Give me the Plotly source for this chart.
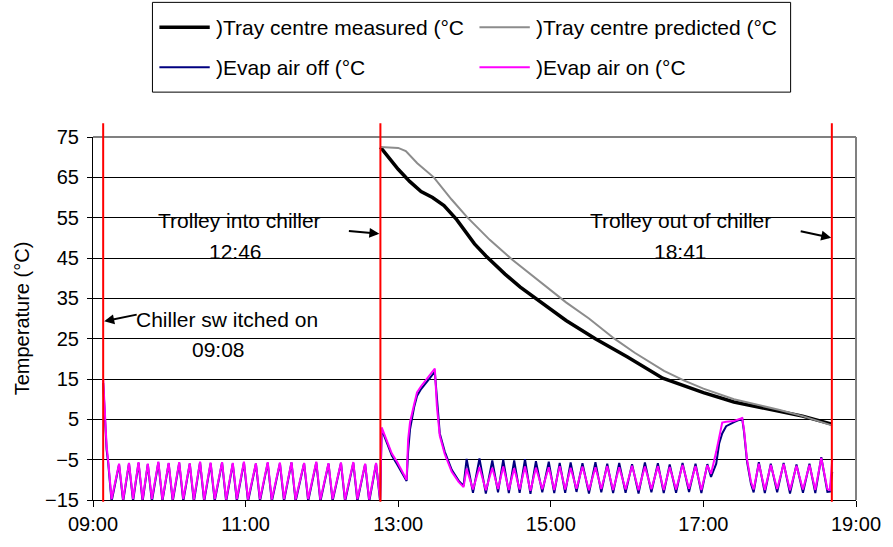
import plotly.graph_objects as go

# ---------------- data (time = minutes after 09:00) ----------------
tray_time = [226, 231, 240, 249, 258, 267, 276, 286, 300, 309, 324, 336, 348, 360, 372, 395,
             420, 448, 465, 480, 504, 525, 540, 558, 581]
tray_measured = [72.5, 70.5, 67, 64, 61.5, 60, 58, 54.5, 48.5, 45.5, 41, 37.8, 35, 32.2, 29.5, 25,
                 20.5, 15.2, 13.2, 11.6, 9.3, 8, 7, 5.8, 3.8]

pred_time = [226, 240, 246, 255, 268, 282, 294, 312, 330, 348, 372, 390, 410, 426,
             449, 465, 480, 504, 525, 540, 558, 581]
tray_predicted = [72.5, 72.3, 71.5, 68.5, 65, 59.5, 55.2, 49.5, 44.5, 40, 34, 30, 25, 21.5,
                  17, 14.6, 12.6, 10, 8.5, 7.3, 5.8, 3.5]

evap_time = [
    8.0, 9.5, 10.7, 12.0, 14.6,
    20.5, 23.7, 28.3, 31.5, 35.8, 39.0, 43.1, 46.3, 51.4, 54.6, 59.5, 62.7, 67.8, 71.0,
    76.1, 79.3, 84.2, 87.4, 92.5, 95.7, 101.5, 104.7, 109.9, 113.1, 118.7, 121.9,
    128.1, 131.3, 137.4, 140.6, 147.0, 150.2, 156.1, 159.3, 166.0, 169.2, 175.6, 178.8,
    185.2, 188.4, 195.0, 198.2, 204.7, 207.9, 214.0, 217.2, 222.6, 225.8,
    227.0, 231.4, 235.0, 239.2, 245.4, 246.6, 247.8, 249.3, 252.5, 254.8, 258.0, 261.0,
    264.9, 268.8, 270.4, 272.7, 276.6, 282.1, 287.5, 291.4,
    293.8, 298.8, 303.9, 308.9, 314.0, 318.5, 322.6, 327.0, 331.2, 335.5, 339.7, 344.0,
    348.3, 353.3, 358.4, 362.7, 367.0, 371.3, 375.6, 380.2, 384.9, 390.0, 395.1, 399.7,
    404.4, 409.0, 413.8, 418.8, 423.9, 429.0, 434.0, 439.1, 444.2, 448.8, 453.5, 458.5,
    463.6, 468.7, 473.8, 478.4, 483.1,
    486.0, 490.1, 492.4, 494.8, 497.9, 504.1, 510.5, 511.9, 514.3, 517.4, 519.5,
    523.6, 528.3, 533.0, 538.0, 543.1, 548.1, 553.2, 558.3, 563.4, 568.0, 572.7, 577.5,
    579.5, 581.3]

evap_off = [
    14, 5, -2.5, -6, -15.4,
    -6.2, -15.4, -5.9, -15.3, -5.8, -15.4, -6.1, -15.4, -5.7, -15.3, -5.9, -15.4, -5.8, -15.3,
    -6.0, -15.5, -5.6, -15.4, -5.9, -15.3, -5.7, -15.4, -6.0, -15.3, -5.7, -15.4,
    -6.0, -15.3, -5.8, -15.4, -5.9, -15.3, -5.7, -15.4, -5.9, -15.3, -5.7, -15.4,
    -6.0, -15.3, -5.8, -15.4, -5.8, -15.3, -6.1, -15.4, -6.0, -15.4,
    2.5, -1.2, -4.0, -6.2, -9.8, -10.3, -3.0, 2.5, 8.0, 10.8, 12.5, 13.8,
    15.2, 16.8, 9.5, 1.5, -3.0, -7.5, -10.2, -11.5,
    -4.8, -13.2, -4.7, -13.4, -5.2, -13.1, -5.0, -13.3, -5.2, -13.2, -4.9, -13.5,
    -5.4, -13.1, -5.5, -13.3, -5.8, -13.2, -5.7, -13.0, -5.9, -13.4, -5.6, -13.1,
    -6.0, -13.3, -5.8, -13.2, -6.1, -13.4, -5.7, -13.1, -5.9, -13.3, -6.2, -13.2,
    -5.8, -13.0, -6.0, -13.3, -6.1,
    -9.3, -6.0, -1.0, 1.5, 3.3, 4.3, 5.2, 2.0, -5.5, -11.0, -13.1,
    -5.6, -13.3, -6.0, -13.1, -5.8, -13.4, -6.2, -13.2, -6.0, -13.3, -4.4, -13.0,
    -12.9, -8.0]

evap_on = [
    15, 6, -1.6, -5.5, -14.8,
    -6.0, -14.9, -5.8, -14.8, -5.6, -14.9, -6.0, -14.8, -5.5, -14.9, -5.8, -14.9, -5.6, -14.8,
    -5.9, -14.9, -5.5, -14.9, -5.7, -14.8, -5.6, -14.9, -5.8, -14.8, -5.5, -14.9,
    -5.9, -14.8, -5.6, -14.9, -5.7, -14.8, -5.6, -14.9, -5.8, -14.8, -5.5, -14.9,
    -5.9, -14.8, -5.7, -14.9, -5.6, -14.8, -6.0, -14.9, -5.8, -14.9,
    3.0, -0.7, -3.5, -5.6, -9.3, -10.0, 0.0, 4.3, 8.7, 11.7, 13.2, 14.4,
    15.8, 17.6, 8.3, 0.9, -3.6, -8.0, -10.5, -11.8,
    -7.2, -12.4, -6.8, -12.6, -7.0, -12.3, -6.7, -12.5, -7.1, -12.4, -6.7, -12.7,
    -7.0, -12.3, -6.9, -12.5, -6.6, -12.4, -7.0, -12.2, -6.7, -12.6, -6.9, -12.3,
    -6.6, -12.5, -6.9, -12.4, -6.5, -12.6, -6.7, -12.3, -6.6, -12.5, -6.8, -12.4,
    -6.3, -12.2, -6.6, -12.5, -6.4,
    -8.5, -3.0, 0.5, 4.2, 4.4, 4.6, 5.3, 2.5, -4.9, -10.5, -12.4,
    -6.0, -12.5, -6.3, -12.3, -6.1, -12.6, -6.5, -12.4, -6.3, -12.5, -4.6, -12.3,
    -12.5, -5.0]

series_names = [")Tray centre measured (°C", ")Tray centre predicted (°C",
                ")Evap air off (°C", ")Evap air on (°C"]
series_colors = ["black", "#8c8c8c", "#000080", "#ff00ff"]
series_widths = [3.5, 2, 2, 2]

event_time = [8, 226, 581]          # 09:08, 12:46, 18:41
tick_hours = [9, 11, 13, 15, 17, 19]
tick_labels = ["09:00", "11:00", "13:00", "15:00", "17:00", "19:00"]
y_ticks = [-15, -5, 5, 15, 25, 35, 45, 55, 65, 75]


def to_hours(mins):
    return [9 + m / 60.0 for m in mins]


FONT = "Liberation Sans, Arial, sans-serif"

xs = [to_hours(tray_time), to_hours(pred_time), to_hours(evap_time), to_hours(evap_time)]
ys = [tray_measured, tray_predicted, evap_off, evap_on]

fig = go.Figure()
for x, y, n, c, w in zip(xs, ys, series_names, series_colors, series_widths):
    fig.add_trace(go.Scatter(x=x, y=y, mode="lines", name=n, showlegend=False,
                             line=dict(color=c, width=w)))

# plot-area frame (top and right) in grey
shapes = [
    dict(type="line", xref="paper", yref="paper", x0=0, x1=1, y0=1, y1=1,
         line=dict(color="#808080", width=2), layer="above"),
    dict(type="line", xref="paper", yref="paper", x0=1, x1=1, y0=0, y1=1,
         line=dict(color="#808080", width=2), layer="above"),
]
# event markers
for t in to_hours(event_time):
    shapes.append(dict(type="line", xref="x", yref="paper", x0=t, x1=t, y0=-0.005, y1=1.038,
                       line=dict(color="#ff0000", width=2), layer="above"))

# legend box (drawn in paper coordinates above the plot)
shapes.append(dict(type="rect", xref="paper", yref="paper", x0=0.0779, x1=0.9143,
                   y0=1.1236, y1=1.3709, line=dict(color="black", width=1),
                   fillcolor="white", layer="above"))
leg_x = [0.0870, 0.5065, 0.0870, 0.5065]
leg_y = [1.3022, 1.3022, 1.1923, 1.1923]
leg_len = 0.066
annotations = []
for lx, ly, n, c, w in zip(leg_x, leg_y, series_names, series_colors, series_widths):
    shapes.append(dict(type="line", xref="paper", yref="paper", x0=lx, x1=lx + leg_len,
                       y0=ly, y1=ly, line=dict(color=c, width=w), layer="above"))
    annotations.append(dict(xref="paper", yref="paper", x=lx + leg_len + 0.005, y=ly,
                            xanchor="left", yanchor="middle", text=n, showarrow=False,
                            font=dict(family=FONT, size=21, color="black")))

ann_font = dict(family=FONT, size=21, color="black")
annotations += [
    dict(x=9 + 105 / 60, y=29.8, text="Chiller sw itched on", showarrow=False, font=ann_font),
    dict(x=9 + 99 / 60, y=22.3, text="09:08", showarrow=False, font=ann_font),
    dict(x=9 + 115 / 60, y=54.3, text="Trolley into chiller", showarrow=False, font=ann_font),
    dict(x=9 + 112 / 60, y=46.6, text="12:46", showarrow=False, font=ann_font),
    dict(x=9 + 462 / 60, y=54.2, text="Trolley out of chiller", showarrow=False, font=ann_font),
    dict(x=9 + 462 / 60, y=46.5, text="18:41", showarrow=False, font=ann_font),
]
arrow_heads = [(9 + 8.8 / 60, 29.3, 34, -7), (9 + 225.2 / 60, 51.0, -32, -3),
               (9 + 580.5 / 60, 50.0, -32, -7)]
for hx, hy, ax, ay in arrow_heads:
    annotations.append(dict(x=hx, y=hy, ax=ax, ay=ay, text="", showarrow=True,
                            arrowhead=2, arrowsize=1, arrowwidth=2, arrowcolor="black",
                            standoff=0, startstandoff=0))

fig.update_layout(
    width=893, height=547,
    margin=dict(l=93, r=30, t=137, b=46),
    paper_bgcolor="white", plot_bgcolor="white",
    font=dict(family=FONT, size=20, color="black"),
    showlegend=False,
    shapes=shapes,
    annotations=annotations,
    xaxis=dict(range=[9, 19], tickvals=tick_hours, ticktext=tick_labels,
               showgrid=False, zeroline=False, showline=True, linecolor="black", linewidth=1,
               ticks="outside", ticklen=6, tickcolor="black",
               tickfont=dict(family=FONT, size=20, color="black")),
    yaxis=dict(range=[-15, 75], tickvals=y_ticks, showgrid=True, gridcolor="black", gridwidth=1,
               zeroline=False, showline=True, linecolor="black", linewidth=1,
               ticks="outside", ticklen=5, tickcolor="black", ticklabelstandoff=4,
               tickfont=dict(family=FONT, size=20, color="black"),
               title=dict(text="Temperature (°C)", standoff=10,
                          font=dict(family=FONT, size=20, color="black"))),
)

fig.write_html("out.html")
